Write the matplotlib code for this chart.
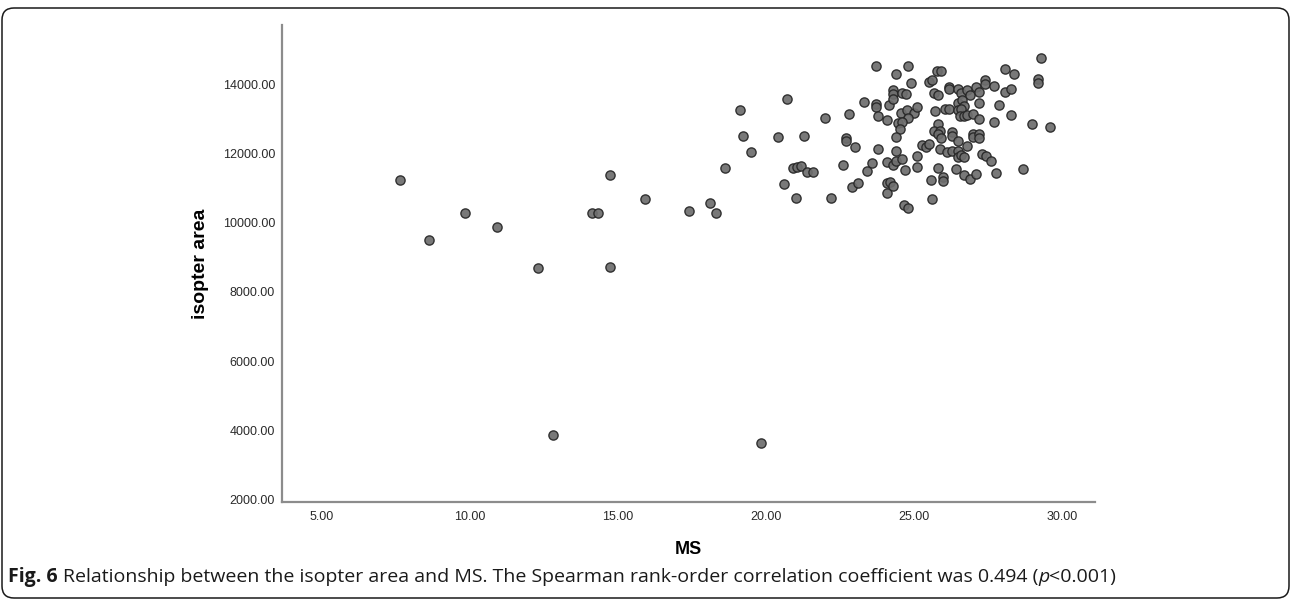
import matplotlib
matplotlib.use("Agg")
import matplotlib.pyplot as plt
from matplotlib.patches import FancyBboxPatch
from matplotlib.transforms import IdentityTransform

# MS (x) and isopter area (y)
ms = [7.64, 8.63, 9.83, 10.92, 12.31, 12.81, 14.12, 14.31, 14.71, 14.71,
      15.90, 17.40, 18.11, 18.30, 18.60, 19.49, 19.10, 19.20, 19.83,
      23.69, 20.70, 23.29, 23.69, 23.69, 24.16, 21.98, 22.79, 23.78, 24.08,
      20.40, 21.29, 22.69, 22.69, 22.98, 23.78, 20.90, 21.04, 21.19, 21.39,
      21.59, 22.59, 23.58, 23.39, 24.08, 20.60, 20.99, 22.19, 22.88, 23.10,
      24.08, 24.08,
      29.28, 28.07, 28.38, 29.18, 29.18, 24.80, 24.39, 24.88, 25.77, 25.89,
      25.50, 25.60, 26.18, 26.18, 26.48, 26.59, 26.79, 26.89, 27.08, 27.19,
      27.38, 27.38, 27.68, 28.07, 28.28, 24.28, 24.28, 24.28, 24.58, 24.72,
      25.68, 25.79, 27.17, 27.87, 24.56, 24.75, 24.98, 25.09, 24.80, 25.69,
      26.05, 26.18, 26.46, 26.60, 26.69, 26.46, 26.59, 26.55, 26.67, 26.78,
      26.98, 27.19, 27.68, 28.28, 28.98, 29.57, 24.44, 24.58, 24.50, 24.38,
      25.79, 25.68, 25.88, 25.79, 25.89, 26.28, 26.28, 26.48, 26.97, 26.97,
      27.19, 27.19, 26.78, 25.26, 25.41, 25.50, 25.88, 24.39, 25.09, 24.29,
      24.39, 24.59, 26.10, 26.27, 26.48, 26.48, 26.59, 26.69, 27.27, 27.41,
      27.58, 24.69, 25.09, 25.79, 26.39, 26.68, 26.87, 27.07, 27.77, 28.68,
      25.57, 25.98, 25.98, 24.19, 24.28, 25.58, 24.66, 24.80]

area = [11225, 9509, 10272, 9884, 8682, 3864, 10295, 10295, 11393, 8720,
        10676, 10338, 10569, 10272, 11572, 12043, 13257, 12514, 3633,
        14520, 13584, 13488, 13422, 13352, 13393, 13017, 13141, 13084, 12968,
        12468, 12497, 12439, 12370, 12179, 12130, 11589, 11618, 11647, 11465,
        11457, 11659, 11717, 11503, 11763, 11118, 10722, 10722, 11032, 11147,
        11139, 10858,
        14760, 14451, 14297, 14144, 14029, 14537, 14297, 14037, 14375, 14393,
        14066, 14115, 13930, 13855, 13873, 13748, 13826, 13682, 13922, 13777,
        14115, 14000, 13959, 13769, 13855, 13835, 13711, 13575, 13740, 13711,
        13740, 13699, 13459, 13410, 13179, 13257, 13170, 13335, 13034, 13228,
        13277, 13295, 13468, 13546, 13364, 13248, 13286, 13092, 13075, 13121,
        13150, 13006, 12919, 13104, 12861, 12757, 12890, 12902, 12699, 12468,
        12852, 12641, 12659, 12555, 12448, 12630, 12514, 12352, 12563, 12468,
        12555, 12448, 12217, 12237, 12179, 12283, 12121, 12063, 11936, 11667,
        11783, 11832, 12043, 12063, 12063, 11890, 11965, 11907, 11985, 11936,
        11783, 11532, 11610, 11581, 11552, 11387, 11254, 11416, 11436, 11552,
        11225, 11321, 11205, 11168, 11069, 10685, 10511, 10425]

xticks = [5, 10, 15, 20, 25, 30]
yticks = [2000, 4000, 6000, 8000, 10000, 12000, 14000]

plt.rcParams['font.family'] = ['Liberation Sans', 'DejaVu Sans']

fig = plt.figure(figsize=(12.92, 6.01), dpi=100)
ax = fig.add_axes([282/1292, 1-501.7/601, (1095-282)/1292, (501.7-25)/601])

ax.scatter(ms, area, s=44, facecolor='#6e6e6e', edgecolor='#262626',
           linewidth=1.0, alpha=0.92, zorder=3)

ax.set_xlim(3.65, 31.1)
ax.set_ylim(1937, 15714)
ax.set_xticks(xticks)
ax.set_xticklabels(['%.2f' % v for v in xticks])
ax.set_yticks(yticks)
ax.set_yticklabels(['%.2f' % v for v in yticks])
ax.tick_params(axis='both', length=0, labelsize=9, labelcolor='#2a2a2a')
ax.tick_params(axis='x', pad=7)
ax.tick_params(axis='y', pad=5)

for side in ['top', 'right']:
    ax.spines[side].set_visible(False)
for side in ['left', 'bottom']:
    ax.spines[side].set_color('#8c8c8c')
    ax.spines[side].set_linewidth(1.6)

ax.set_xlabel('MS', fontsize=13, fontweight='bold', labelpad=13)
ax.set_ylabel('isopter area', fontsize=14, fontweight='bold', labelpad=10)

# caption below the chart
fig.canvas.draw()
r = fig.canvas.get_renderer()
cap_y = 1 - 577/601
cap_kw = dict(fontsize=14, family='Open Sans', va='center', color='#1a1a1a')
t1 = fig.text(8/1292, cap_y, 'Fig. 6', fontweight='bold', **cap_kw)
bb = t1.get_window_extent(renderer=r)
t2 = fig.text((bb.x1 + 5)/1292, cap_y,
              'Relationship between the isopter area and MS. The Spearman rank-order '
              'correlation coefficient was 0.494 (', **cap_kw)
bb2 = t2.get_window_extent(renderer=r)
t3 = fig.text(bb2.x1/1292, cap_y, 'p', style='italic', **cap_kw)
bb3 = t3.get_window_extent(renderer=r)
fig.text(bb3.x1/1292, cap_y, '<0.001)', **cap_kw)

# rounded frame around the figure
frame = FancyBboxPatch((2, 3), 1287, 590, boxstyle='round,pad=0,rounding_size=12',
                       transform=IdentityTransform(), fill=False,
                       edgecolor='#1a1a1a', linewidth=1.1)
fig.patches.append(frame)

fig.savefig('out.png', dpi=100)
